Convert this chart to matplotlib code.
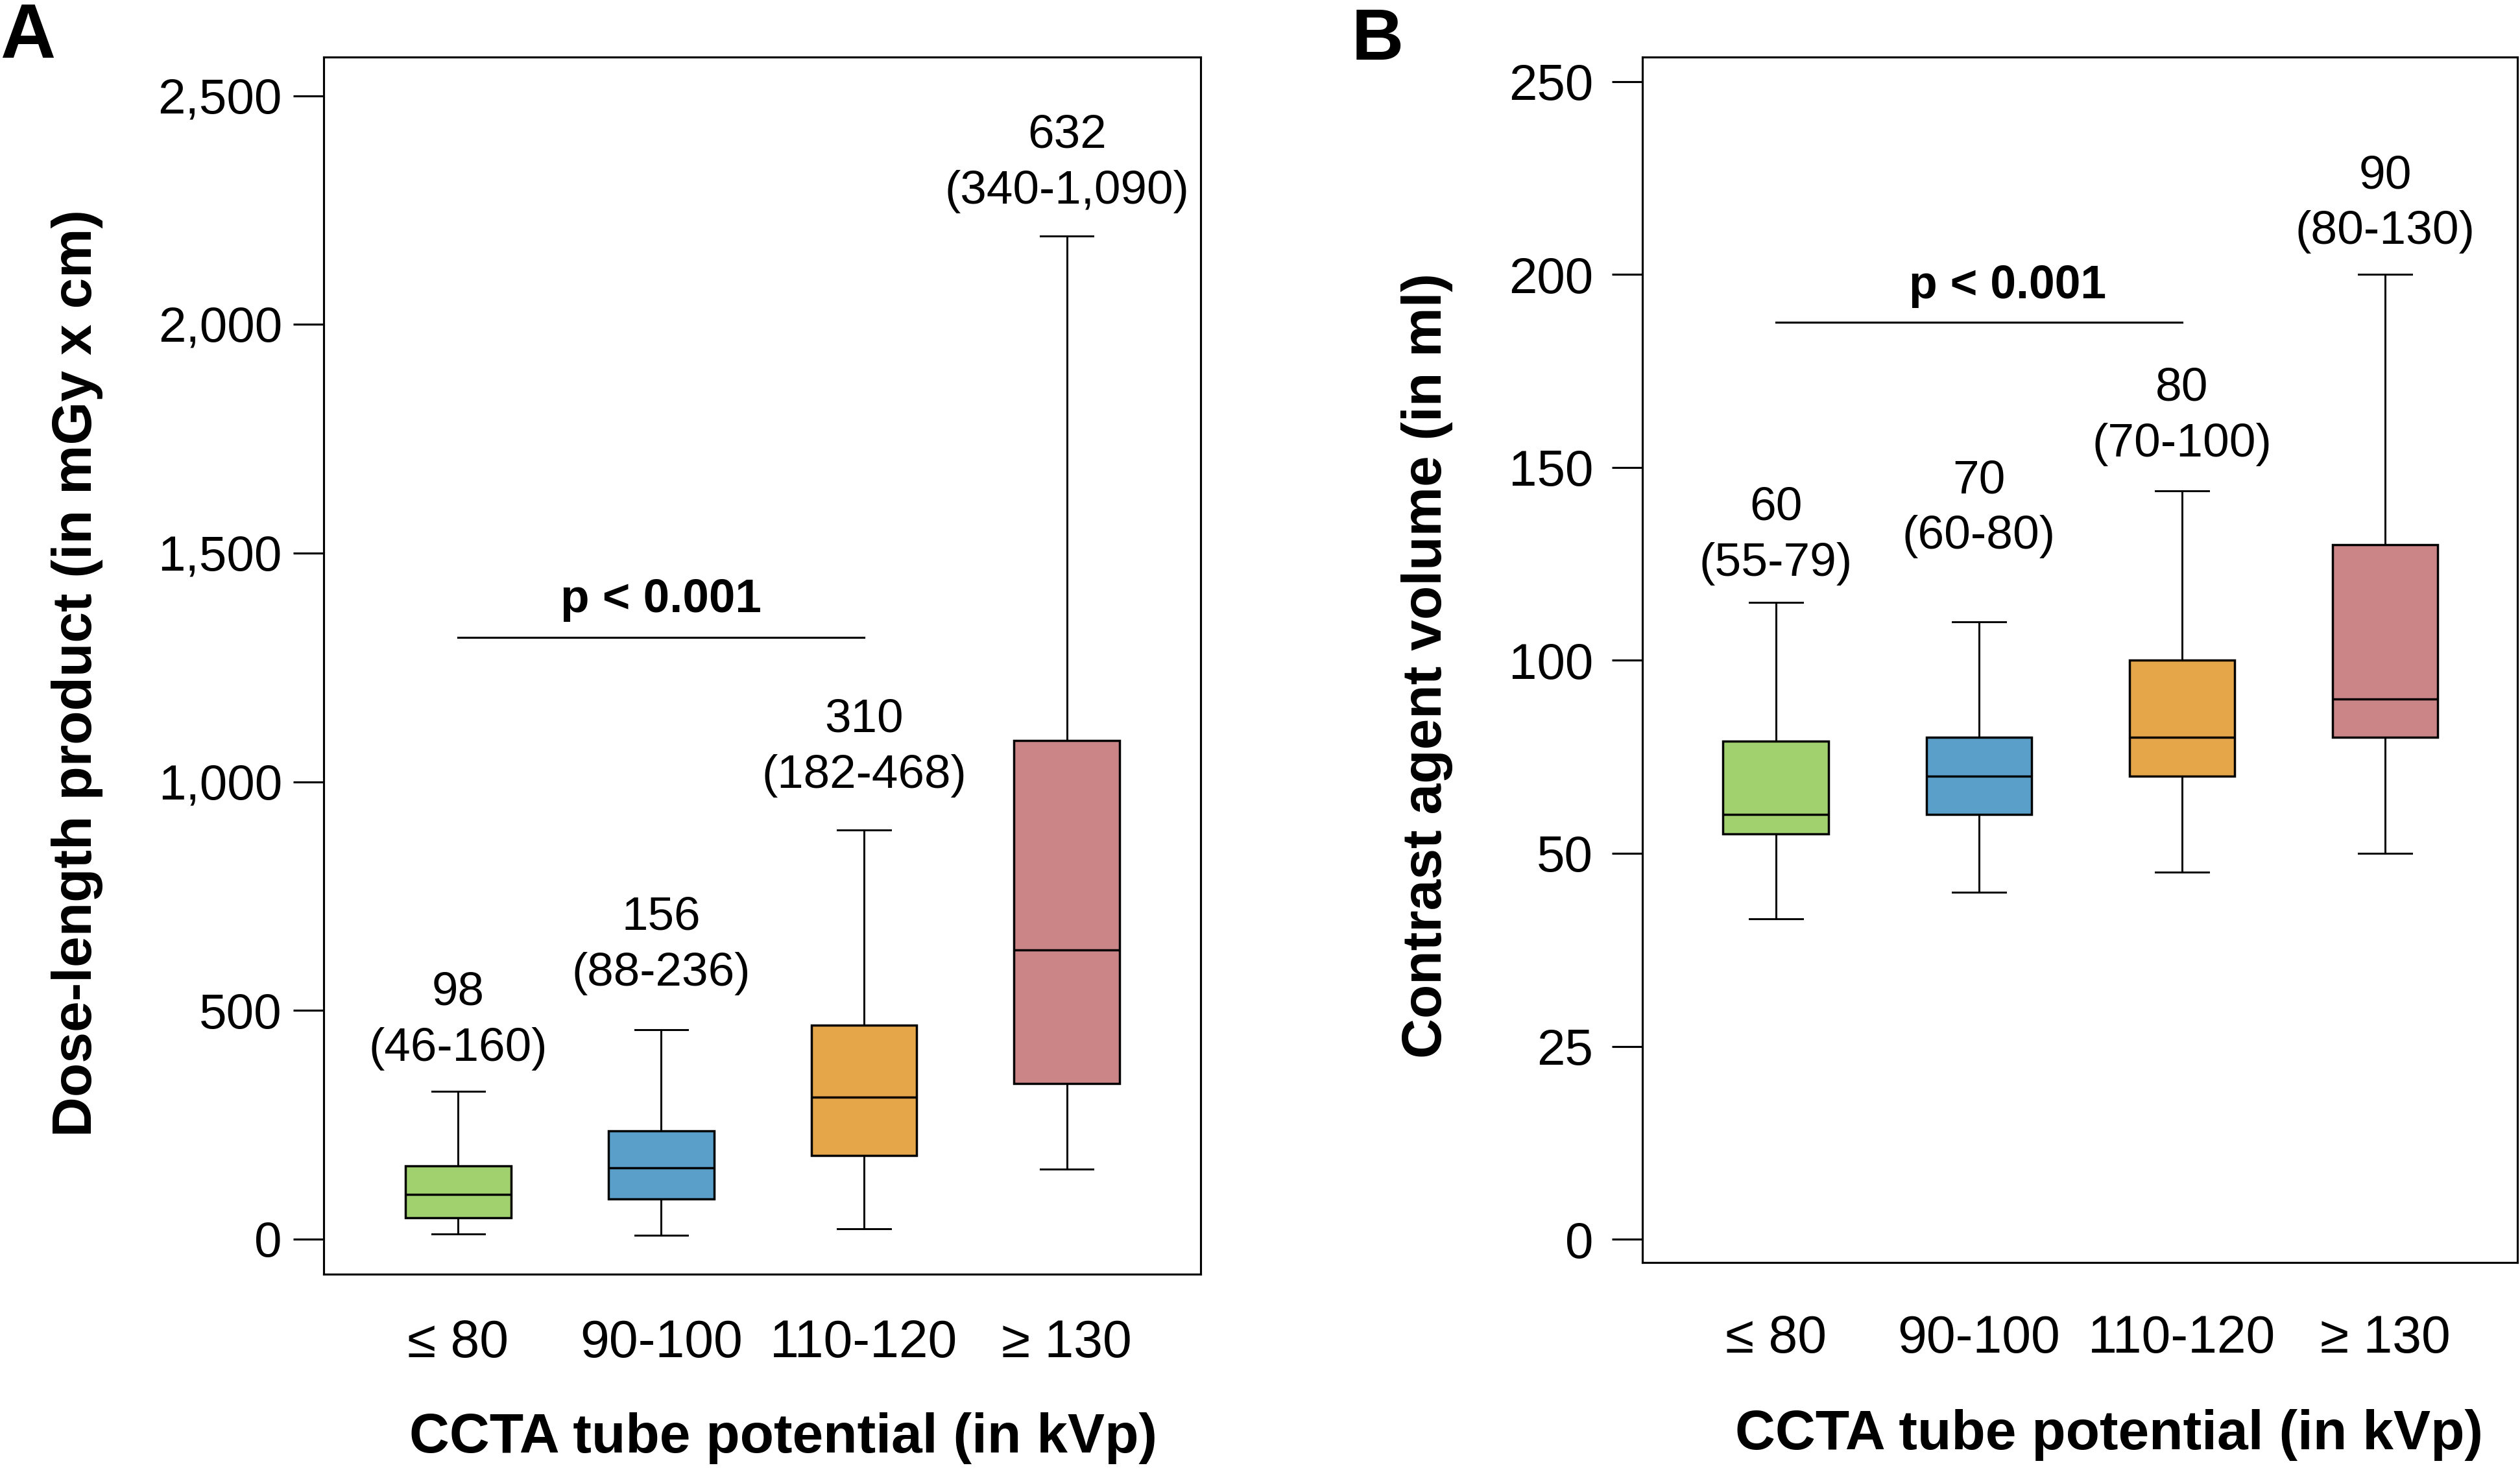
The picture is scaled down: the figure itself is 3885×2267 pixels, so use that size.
import numpy as np
import matplotlib
matplotlib.use('Agg')
import matplotlib.pyplot as plt
from matplotlib.ticker import FuncFormatter

plt.rcParams['font.family'] = ['Liberation Sans', 'DejaVu Sans']

# categories and colours
grupos = ['≤ 80', '90-100', '110-120', '≥ 130']
cores = ['#A1D06F', '#5A9FC9', '#E5A64A', '#CC8587']

# A - dose-length product (mGy x cm)
dlp_med = [98, 156, 310, 632]
dlp_q1 = [46, 88, 182, 340]
dlp_q3 = [160, 236, 468, 1090]
dlp_lo = [11, 8, 23, 153]
dlp_hi = [323, 457, 894, 2194]
dlp_lab1 = ['98', '156', '310', '632']
dlp_lab2 = ['(46-160)', '(88-236)', '(182-468)', '(340-1,090)']
dlp_lab_y = [416, 581, 1013, 2291]

# B - contrast agent volume (ml)
vol_med = [60, 70, 80, 90]
vol_q1 = [55, 60, 70, 80]
vol_q3 = [79, 80, 100, 130]
vol_lo = [41.5, 45, 47.6, 50]
vol_hi = [115, 110, 144, 200]
vol_lab1 = ['60', '70', '80', '90']
vol_lab2 = ['(55-79)', '(60-80)', '(70-100)', '(80-130)']
vol_lab_y = [125, 132, 156, 211]


# eixo y do painel B: 0-50 esticado (25 por divisao), depois 50 por divisao
def fwd(v):
    v = np.asarray(v, dtype=float)
    return np.where(v <= 50, v / 25.0, 2 + (v - 50) / 50.0)


def inv(t):
    t = np.asarray(t, dtype=float)
    return np.where(t <= 2, t * 25.0, 50 + (t - 2) * 50.0)


def caixas(ax, med, q1, q3, lo, hi):
    stats = []
    for i in range(len(med)):
        stats.append({'med': med[i], 'q1': q1[i], 'q3': q3[i],
                      'whislo': lo[i], 'whishi': hi[i], 'fliers': []})
    bp = ax.bxp(stats, positions=range(1, len(med) + 1), widths=0.52,
                capwidths=0.26, patch_artist=True, showfliers=False,
                boxprops=dict(linewidth=1.0, edgecolor='black'),
                whiskerprops=dict(linewidth=0.85, color='black'),
                capprops=dict(linewidth=0.85, color='black'),
                medianprops=dict(linewidth=1.0, color='black'))
    for patch, c in zip(bp['boxes'], cores):
        patch.set_facecolor(c)


def rotulos(ax, lab1, lab2, lab_y, fs):
    for i in range(len(lab1)):
        ax.text(i + 1, lab_y[i], lab2[i], ha='center', va='center', fontsize=fs)
        ax.annotate(lab1[i], (i + 1, lab_y[i]), xytext=(0, 24.8),
                    textcoords='offset points', ha='center', va='center', fontsize=fs)


fig = plt.figure(figsize=(15.54, 9.068), dpi=250)

# ---------- painel A ----------
ax1 = fig.add_axes([0.1284, 0.1332, 0.4764 - 0.1284, 0.9612 - 0.1332])
caixas(ax1, dlp_med, dlp_q1, dlp_q3, dlp_lo, dlp_hi)
rotulos(ax1, dlp_lab1, dlp_lab2, dlp_lab_y, 21)
ax1.set_xlim(0.336, 4.659)
ax1.set_ylim(-77, 2585)
ax1.set_yticks([0, 500, 1000, 1500, 2000, 2500])
ax1.yaxis.set_major_formatter(FuncFormatter(lambda v, p: f'{v:,.0f}'))
ax1.set_xticks([1, 2, 3, 4])
ax1.set_xticklabels(grupos)
ax1.tick_params(axis='y', length=13.5, width=0.9, pad=4.9, labelsize=22)
ax1.tick_params(axis='x', length=0, pad=20, labelsize=23.2)
ax1.plot([1, 3], [1316, 1316], color='black', lw=0.9)
ax1.text(2, 1371, 'p < 0.001', ha='center', va='baseline', fontsize=21, fontweight='bold')
ax1.text(-0.281, 0.494, 'Dose-length product (in mGy x cm)', transform=ax1.transAxes,
         rotation=90, ha='center', va='center', fontsize=24.7, fontweight='bold')
ax1.text(0.524, -0.135, 'CCTA tube potential (in kVp)', transform=ax1.transAxes,
         ha='center', va='center', fontsize=24.7, fontweight='bold')

# ---------- painel B ----------
ax2 = fig.add_axes([0.6517, 0.1412, 0.999 - 0.6517, 0.9614 - 0.1412])
ax2.set_yscale('function', functions=(fwd, inv))
caixas(ax2, vol_med, vol_q1, vol_q3, vol_lo, vol_hi)
rotulos(ax2, vol_lab1, vol_lab2, vol_lab_y, 21.1)
ax2.set_xlim(0.342, 4.652)
ax2.set_ylim(-3, 256.4)
ax2.set_yticks([0, 25, 50, 100, 150, 200, 250])
ax2.yaxis.set_major_formatter(FuncFormatter(lambda v, p: f'{v:.0f}'))
ax2.yaxis.set_minor_locator(matplotlib.ticker.NullLocator())
ax2.set_xticks([1, 2, 3, 4])
ax2.set_xticklabels(grupos)
ax2.tick_params(axis='y', length=13.5, width=0.9, pad=8.3, labelsize=22.5)
ax2.tick_params(axis='x', length=0, pad=23, labelsize=23.2)
ax2.plot([1, 3], [187.6, 187.6], color='black', lw=0.9)
ax2.text(2.14, 193.9, 'p < 0.001', ha='center', va='baseline', fontsize=20.6, fontweight='bold')
ax2.text(-0.246, 0.495, 'Contrast agent volume (in ml)', transform=ax2.transAxes,
         rotation=90, ha='center', va='center', fontsize=24.7, fontweight='bold')
ax2.text(0.533, -0.143, 'CCTA tube potential (in kVp)', transform=ax2.transAxes,
         ha='center', va='center', fontsize=24.7, fontweight='bold')

for ax in (ax1, ax2):
    for s in ax.spines.values():
        s.set_linewidth(0.9)

fig.text(0.0, 1 - 3 / 2267, 'A', ha='left', va='top', fontsize=34, fontweight='bold')
fig.text(2084 / 3885, 1 - 11 / 2267, 'B', ha='left', va='top', fontsize=32, fontweight='bold')

fig.savefig('out.png', dpi=250)
